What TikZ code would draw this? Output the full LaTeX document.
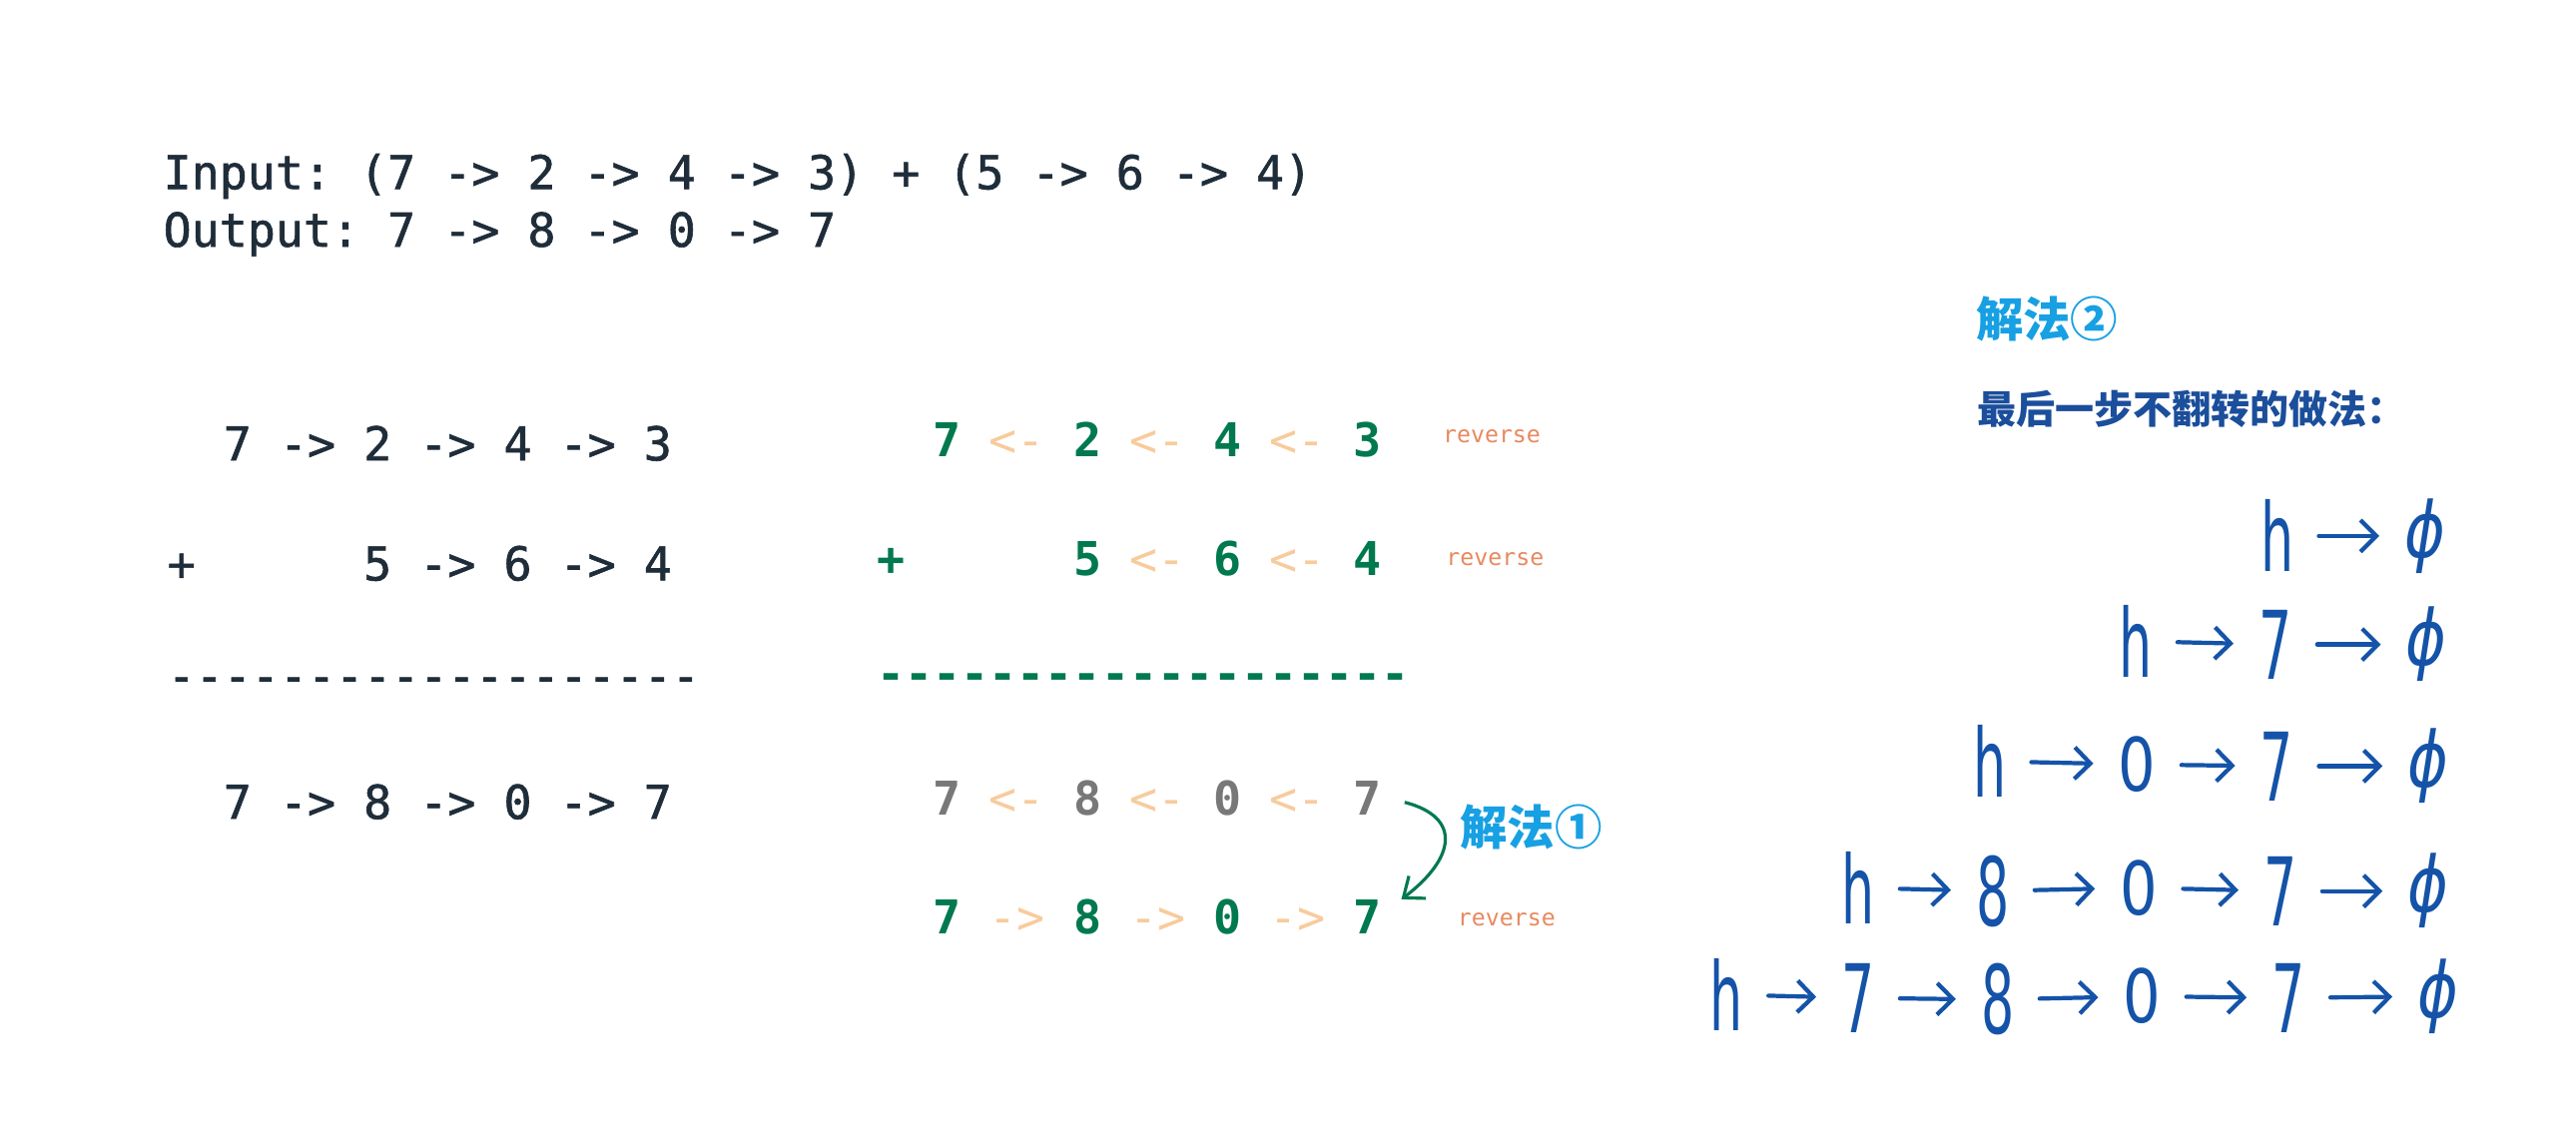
\documentclass[tikz,border=0pt]{standalone}
\usepackage{fontspec}
\usepackage{graphicx}
\setmonofont{DejaVu Sans Mono}
\newfontfamily\codemed{DejaVu Sans Mono}[FakeBold=1.3]
\newfontfamily\cjk{Noto Sans CJK SC}
\newfontfamily\handfont{DejaVu Sans}
\usepackage{tikz}
\usetikzlibrary{arrows.meta,positioning}

\definecolor{ink}{HTML}{1F2D3A}
\definecolor{codegreen}{HTML}{00794F}
\definecolor{peach}{HTML}{F8CB9C}
\definecolor{oldgray}{HTML}{787878}
\definecolor{revorange}{HTML}{E8895F}
\definecolor{noteblue}{HTML}{17A0E3}
\definecolor{titleblue}{HTML}{1B4E9B}
\definecolor{penblue}{HTML}{1453A8}

\newcommand{\gd}[1]{\textcolor{codegreen}{\bfseries #1}}
\newcommand{\gy}[1]{\textcolor{oldgray}{\bfseries #1}}
\newcommand{\pa}[1]{\textcolor{peach}{#1}}
\newcommand{\hand}[2][0.55]{\scalebox{#1}[1]{#2}}

\begin{document}
\begin{tikzpicture}[x=0.016454cm, y=-0.016466cm,
    codeline/.style={font=\ttfamily\fontsize{13.26}{16}\selectfont, text=ink, anchor=base west, inner sep=0pt},
    inkline/.style={codeline, font=\codemed\frenchspacing\fontsize{13.26}{16}\selectfont},
    revnote/.style={font=\ttfamily\fontsize{6.6}{8}\selectfont, text=revorange, anchor=base},
    cjknote/.style={font=\cjk\bfseries\fontsize{13.5}{16}\selectfont, text=noteblue},
    penglyph/.style={font=\handfont\fontsize{27}{30}\selectfont, text=penblue, inner sep=1pt},
    pensmall/.style={penglyph, font=\handfont\fontsize{21}{24}\selectfont},
    pennull/.style={penglyph, font=\handfont\itshape\fontsize{22}{26}\selectfont},
    penarrow/.style={draw=penblue, line width=1.2pt, line cap=round,
        -{Straight Barb[length=4.5pt,width=9pt]}, shorten <=6pt, shorten >=6pt}]

    \fill[white] (0,0) rectangle (1568,696);
    \useasboundingbox (0,0) rectangle (1568,696);

    % problem statement
    \node[inkline] (input) at (99,115) {Input: (7 -> 2 -> 4 -> 3) + (5 -> 6 -> 4)};
    \node[inkline] (output) at (99,150) {Output: 7 -> 8 -> 0 -> 7};

    % plain addition
    \node[inkline] (l1) at (101.5,280) {~~7~->~2~->~4~->~3};
    \node[inkline] (l2) at (101.5,353) {+~~~~~~5~->~6~->~4};
    \node[inkline] (l3) at (101.5,421) {-------------------};
    \node[inkline] (l4) at (101.5,498) {~~7~->~8~->~0~->~7};

    % reversed addition
    \node[codeline] (m1) at (533.5,278) {~~\gd{7}~\pa{<-}~\gd{2}~\pa{<-}~\gd{4}~\pa{<-}~\gd{3}};
    \node[codeline] (m2) at (533.5,350) {\gd{+}~~~~~~\gd{5}~\pa{<-}~\gd{6}~\pa{<-}~\gd{4}};
    \node[codeline, text=codegreen] (m3) at (533.5,420) {\bfseries -------------------};
    \node[codeline] (m4) at (533.5,496) {~~\gy{7}~\pa{<-}~\gy{8}~\pa{<-}~\gy{0}~\pa{<-}~\gy{7}};
    \node[codeline] (m5) at (533.5,568) {~~\gd{7}~\pa{->}~\gd{8}~\pa{->}~\gd{0}~\pa{->}~\gd{7}};

    \node[revnote] (rev1) at (908,269) {reverse};
    \node[revnote] (rev2) at (910,344) {reverse};
    \node[revnote] (rev5) at (917,563) {reverse};

    % solution 1: reverse the result again
    \node[cjknote] (sol1) at (932,503) {解法①};
    \coordinate (flipfrom) at (855,488);
    \coordinate (flipto) at (853,547);
    \draw[codegreen, line width=0.9pt, -{Straight Barb[length=5pt,width=8pt]}]
        (flipfrom) .. controls (890,497) and (886,522) .. (flipto);

    % solution 2: build the list from the head
    \node[cjknote] (sol2) at (1246,194) {解法②};
    \node[font=\cjk\bfseries\fontsize{11.1}{13}\selectfont, text=titleblue] (sol2note) at (1334,249) {最后一步不翻转的做法：};

    % row 1
    \node[penglyph] (ha) at (1386,326) {\hand{h}};
    \node[pennull] (na) at (1476,326) {\hand[0.8]{ϕ}};
    \draw[penarrow] (ha) -- (na);

    % row 2
    \node[penglyph] (hb) at (1300,390) {\hand{h}};
    \node[penglyph] (sevenb) at (1385,392) {\hand{7}};
    \node[pennull] (nb) at (1477,392) {\hand[0.8]{ϕ}};
    \draw[penarrow] (hb) -- (sevenb);
    \draw[penarrow] (sevenb) -- (nb);

    % row 3
    \node[penglyph] (hc) at (1211,463) {\hand{h}};
    \node[pensmall] (zeroc) at (1301,465) {\hand[0.8]{0}};
    \node[penglyph] (sevenc) at (1386,466) {\hand{7}};
    \node[pennull] (nc) at (1478,466) {\hand[0.8]{ϕ}};
    \draw[penarrow] (hc) -- (zeroc);
    \draw[penarrow] (zeroc) -- (sevenc);
    \draw[penarrow] (sevenc) -- (nc);

    % row 4
    \node[penglyph] (hd) at (1131,540) {\hand{h}};
    \node[penglyph] (eightd) at (1213,542) {\hand{8}};
    \node[pensmall] (zerod) at (1302,540) {\hand[0.8]{0}};
    \node[penglyph] (sevend) at (1388,542) {\hand{7}};
    \node[pennull] (nd) at (1478,542) {\hand[0.8]{ϕ}};
    \draw[penarrow] (hd) -- (eightd);
    \draw[penarrow] (eightd) -- (zerod);
    \draw[penarrow] (zerod) -- (sevend);
    \draw[penarrow] (sevend) -- (nd);

    % row 5
    \node[penglyph] (he) at (1051,605) {\hand{h}};
    \node[penglyph] (sevene) at (1131,607) {\hand{7}};
    \node[penglyph] (eighte) at (1216,608) {\hand{8}};
    \node[pensmall] (zeroe) at (1304,606) {\hand[0.8]{0}};
    \node[penglyph] (seven2e) at (1393,607) {\hand{7}};
    \node[pennull] (ne) at (1484,606) {\hand[0.8]{ϕ}};
    \draw[penarrow] (he) -- (sevene);
    \draw[penarrow] (sevene) -- (eighte);
    \draw[penarrow] (eighte) -- (zeroe);
    \draw[penarrow] (zeroe) -- (seven2e);
    \draw[penarrow] (seven2e) -- (ne);
\end{tikzpicture}
\end{document}
